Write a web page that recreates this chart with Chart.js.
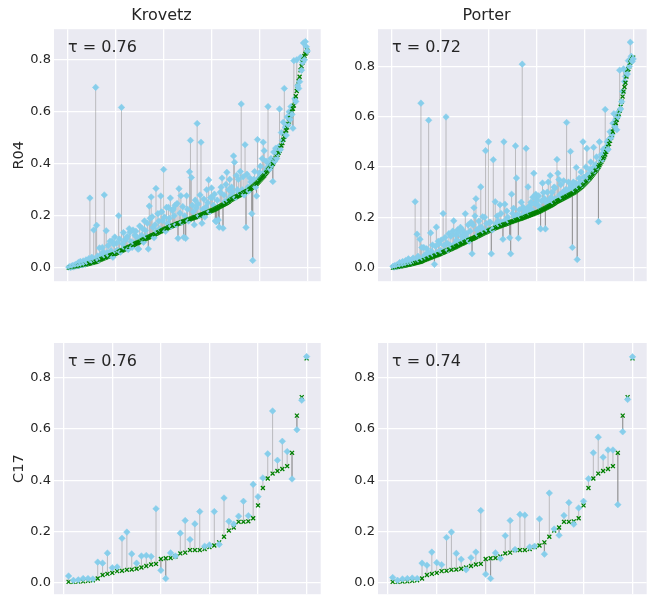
<!DOCTYPE html>
<html lang="en">
<head>
<meta charset="UTF-8">
<title>Krovetz / Porter vs R04 / C17</title>
<style>
    body {
        margin: 0;
        width: 652px;
        height: 604px;
        overflow: hidden;
        position: relative;
        background: #fff;
        font-family: "DejaVu Sans", sans-serif;
    }
    canvas {
        position: absolute;
    }
</style>
<script src="https://cdn.jsdelivr.net/npm/chart.js"></script>
</head>
<body>
<canvas id="c0" width="326" height="292" style="left:0;top:0"></canvas>
<canvas id="c1" width="326" height="292" style="left:326px;top:0"></canvas>
<canvas id="c2" width="326" height="291" style="left:0;top:314px"></canvas>
<canvas id="c3" width="326" height="291" style="left:326px;top:314px"></canvas>
<script>
// column / row names
const stemmers = ['Krovetz', 'Porter'];
const collections = ['R04', 'C17'];
const tauValues = [0.76, 0.72, 0.76, 0.74];

// tick values
const yTicks = [0.0, 0.2, 0.4, 0.6, 0.8];
const xTicksR04 = [0, 50, 100, 150, 200, 250];
const xTicksC17 = [0, 10, 20, 30, 40, 50];

// baseline scores, sorted (green x)
const baseR04 = [
    0.000, 0.001, 0.001, 0.002, 0.003, 0.003, 0.004, 0.005, 0.005, 0.006,
    0.007, 0.008, 0.008, 0.009, 0.010, 0.011, 0.011, 0.012, 0.013, 0.014,
    0.015, 0.016, 0.017, 0.018, 0.019, 0.020, 0.021, 0.022, 0.023, 0.024,
    0.026, 0.028, 0.030, 0.031, 0.033, 0.034, 0.036, 0.037, 0.039, 0.040,
    0.042, 0.043, 0.045, 0.046, 0.048, 0.049, 0.050, 0.052, 0.053, 0.055,
    0.057, 0.059, 0.060, 0.062, 0.064, 0.066, 0.067, 0.069, 0.071, 0.073,
    0.074, 0.076, 0.078, 0.080, 0.081, 0.083, 0.085, 0.087, 0.089, 0.091,
    0.093, 0.095, 0.096, 0.098, 0.100, 0.102, 0.104, 0.106, 0.108, 0.110,
    0.111, 0.113, 0.115, 0.116, 0.118, 0.120, 0.122, 0.124, 0.125, 0.127,
    0.129, 0.131, 0.133, 0.135, 0.137, 0.139, 0.140, 0.142, 0.144, 0.146,
    0.148, 0.150, 0.151, 0.153, 0.155, 0.156, 0.158, 0.159, 0.161, 0.162,
    0.164, 0.165, 0.167, 0.168, 0.170, 0.171, 0.172, 0.174, 0.175, 0.177,
    0.178, 0.180, 0.181, 0.182, 0.184, 0.185, 0.186, 0.188, 0.189, 0.190,
    0.192, 0.193, 0.194, 0.195, 0.197, 0.198, 0.200, 0.201, 0.203, 0.204,
    0.206, 0.207, 0.209, 0.210, 0.212, 0.213, 0.215, 0.216, 0.218, 0.219,
    0.221, 0.222, 0.224, 0.226, 0.228, 0.230, 0.232, 0.234, 0.236, 0.238,
    0.240, 0.242, 0.244, 0.246, 0.248, 0.250, 0.253, 0.255, 0.258, 0.261,
    0.263, 0.265, 0.267, 0.269, 0.271, 0.273, 0.275, 0.277, 0.279, 0.281,
    0.283, 0.285, 0.287, 0.289, 0.291, 0.293, 0.295, 0.297, 0.299, 0.302,
    0.305, 0.308, 0.311, 0.314, 0.317, 0.320, 0.323, 0.327, 0.331, 0.335,
    0.339, 0.343, 0.347, 0.351, 0.355, 0.360, 0.365, 0.370, 0.375, 0.380,
    0.385, 0.390, 0.395, 0.400, 0.407, 0.414, 0.421, 0.428, 0.435, 0.442,
    0.450, 0.460, 0.470, 0.480, 0.492, 0.504, 0.516, 0.528, 0.540, 0.552,
    0.563, 0.575, 0.588, 0.600, 0.612, 0.624, 0.640, 0.660, 0.680, 0.700,
    0.718, 0.735, 0.760, 0.775, 0.790, 0.800, 0.815, 0.823, 0.828, 0.835
];
const baseC17 = [
    0.004, 0.004, 0.005, 0.006, 0.008, 0.010, 0.017, 0.031, 0.035, 0.039,
    0.046, 0.047, 0.051, 0.052, 0.055, 0.060, 0.066, 0.072, 0.074, 0.093,
    0.096, 0.097, 0.103, 0.115, 0.118, 0.128, 0.128, 0.128, 0.132, 0.140,
    0.146, 0.158, 0.180, 0.204, 0.216, 0.238, 0.238, 0.240, 0.252, 0.302,
    0.370, 0.407, 0.426, 0.436, 0.444, 0.455, 0.507, 0.652, 0.724, 0.875
];

// stemmed scores (blue diamonds)
const krovetzR04 = [
    0.002, 0.004, 0.001, 0.006, 0.008, 0.003, 0.010, 0.012, 0.007, 0.015,
    0.020, 0.009, 0.024, 0.014, 0.011, 0.026, 0.018, 0.013, 0.030, 0.022,
    0.019, 0.035, 0.268, 0.028, 0.040, 0.024, 0.145, 0.032, 0.694, 0.163,
    0.045, 0.030, 0.076, 0.038, 0.052, 0.078, 0.060, 0.280, 0.044, 0.142,
    0.058, 0.085, 0.048, 0.102, 0.065, 0.103, 0.040, 0.090, 0.118, 0.062,
    0.095, 0.068, 0.200, 0.110, 0.060, 0.617, 0.092, 0.135, 0.078, 0.107,
    0.112, 0.120, 0.070, 0.150, 0.137, 0.100, 0.078, 0.145, 0.096, 0.125,
    0.140, 0.118, 0.072, 0.072, 0.160, 0.115, 0.125, 0.150, 0.098, 0.180,
    0.143, 0.120, 0.171, 0.072, 0.237, 0.190, 0.272, 0.196, 0.155, 0.115,
    0.165, 0.305, 0.140, 0.208, 0.180, 0.150, 0.276, 0.215, 0.181, 0.378,
    0.195, 0.140, 0.232, 0.170, 0.232, 0.190, 0.268, 0.160, 0.220, 0.226,
    0.200, 0.240, 0.165, 0.247, 0.113, 0.304, 0.210, 0.277, 0.175, 0.235,
    0.117, 0.200, 0.113, 0.277, 0.225, 0.180, 0.369, 0.490, 0.347, 0.240,
    0.215, 0.165, 0.260, 0.230, 0.555, 0.245, 0.200, 0.280, 0.483, 0.171,
    0.225, 0.264, 0.195, 0.233, 0.300, 0.250, 0.338, 0.215, 0.270, 0.307,
    0.270, 0.240, 0.283, 0.180, 0.177, 0.260, 0.184, 0.156, 0.290, 0.310,
    0.345, 0.152, 0.280, 0.255, 0.320, 0.367, 0.260, 0.300, 0.340, 0.275,
    0.310, 0.290, 0.430, 0.406, 0.270, 0.355, 0.300, 0.340, 0.290, 0.370,
    0.630, 0.300, 0.350, 0.280, 0.473, 0.155, 0.360, 0.310, 0.295, 0.345,
    0.330, 0.208, 0.028, 0.340, 0.370, 0.310, 0.276, 0.493, 0.345, 0.365,
    0.390, 0.360, 0.420, 0.483, 0.450, 0.370, 0.410, 0.385, 0.620, 0.400,
    0.380, 0.420, 0.395, 0.332, 0.445, 0.410, 0.460, 0.420, 0.440, 0.465,
    0.611, 0.455, 0.520, 0.490, 0.560, 0.690, 0.540, 0.510, 0.580, 0.550,
    0.600, 0.570, 0.620, 0.590, 0.537, 0.797, 0.650, 0.640, 0.800, 0.700,
    0.690, 0.716, 0.810, 0.760, 0.790, 0.865, 0.800, 0.870, 0.850, 0.834
];
const porterR04 = [
    0.005, 0.002, 0.008, 0.004, 0.010, 0.006, 0.013, 0.020, 0.009, 0.016,
    0.024, 0.012, 0.018, 0.028, 0.015, 0.022, 0.035, 0.019, 0.026, 0.030,
    0.020, 0.038, 0.027, 0.262, 0.033, 0.133, 0.045, 0.030, 0.113, 0.654,
    0.080, 0.036, 0.080, 0.050, 0.042, 0.075, 0.060, 0.586, 0.048, 0.138,
    0.065, 0.090, 0.052, 0.013, 0.085, 0.161, 0.060, 0.105, 0.095, 0.068,
    0.110, 0.064, 0.215, 0.088, 0.120, 0.599, 0.098, 0.070, 0.135, 0.090,
    0.125, 0.082, 0.145, 0.186, 0.095, 0.130, 0.110, 0.150, 0.140, 0.102,
    0.160, 0.125, 0.150, 0.110, 0.135, 0.214, 0.135, 0.118, 0.170, 0.105,
    0.145, 0.180, 0.055, 0.170, 0.238, 0.205, 0.274, 0.150, 0.132, 0.185,
    0.160, 0.321, 0.160, 0.202, 0.145, 0.200, 0.465, 0.175, 0.150, 0.500,
    0.180, 0.180, 0.055, 0.150, 0.429, 0.160, 0.262, 0.175, 0.205, 0.185,
    0.170, 0.250, 0.215, 0.180, 0.113, 0.500, 0.252, 0.190, 0.225, 0.200,
    0.185, 0.119, 0.055, 0.292, 0.215, 0.236, 0.200, 0.484, 0.356, 0.210,
    0.117, 0.230, 0.205, 0.260, 0.809, 0.240, 0.215, 0.225, 0.474, 0.235,
    0.321, 0.220, 0.247, 0.260, 0.230, 0.280, 0.375, 0.255, 0.292, 0.270,
    0.250, 0.285, 0.240, 0.154, 0.265, 0.336, 0.298, 0.275, 0.154, 0.258,
    0.300, 0.340, 0.270, 0.366, 0.280, 0.300, 0.262, 0.320, 0.317, 0.275,
    0.430, 0.375, 0.350, 0.290, 0.330, 0.280, 0.300, 0.345, 0.295, 0.310,
    0.577, 0.300, 0.340, 0.315, 0.462, 0.325, 0.080, 0.340, 0.310, 0.335,
    0.398, 0.032, 0.320, 0.355, 0.340, 0.380, 0.330, 0.500, 0.360, 0.345,
    0.400, 0.474, 0.370, 0.355, 0.390, 0.420, 0.375, 0.395, 0.478, 0.385,
    0.410, 0.440, 0.400, 0.183, 0.500, 0.425, 0.450, 0.430, 0.470, 0.455,
    0.629, 0.480, 0.500, 0.470, 0.510, 0.540, 0.516, 0.530, 0.574, 0.612,
    0.560, 0.590, 0.548, 0.600, 0.620, 0.785, 0.631, 0.660, 0.700, 0.790,
    0.740, 0.760, 0.780, 0.770, 0.823, 0.800, 0.896, 0.840, 0.820, 0.830
];
const krovetzC17 = [
    0.027, 0.010, 0.012, 0.017, 0.017, 0.015, 0.081, 0.077, 0.116, 0.059,
    0.062, 0.174, 0.198, 0.113, 0.077, 0.105, 0.107, 0.103, 0.289, 0.049,
    0.017, 0.117, 0.105, 0.194, 0.243, 0.169, 0.230, 0.278, 0.143, 0.148,
    0.278, 0.150, 0.331, 0.240, 0.229, 0.260, 0.318, 0.262, 0.384, 0.336,
    0.409, 0.503, 0.670, 0.478, 0.552, 0.512, 0.405, 0.597, 0.712, 0.882
];
const porterC17 = [
    0.021, 0.010, 0.015, 0.017, 0.019, 0.017, 0.077, 0.069, 0.120, 0.079,
    0.071, 0.177, 0.198, 0.115, 0.092, 0.051, 0.098, 0.120, 0.282, 0.034,
    0.017, 0.117, 0.095, 0.184, 0.243, 0.130, 0.267, 0.264, 0.140, 0.143,
    0.249, 0.112, 0.350, 0.210, 0.186, 0.263, 0.313, 0.229, 0.292, 0.318,
    0.406, 0.507, 0.568, 0.490, 0.518, 0.518, 0.305, 0.589, 0.715, 0.881
];

const TEXT = '#262626';
const FONT = '"DejaVu Sans", sans-serif';
const BLUE = '#87CEEB';
const GREEN = '#008000';

// grey background behind the plot area (seaborn darkgrid look)
const panelBg = {
    id: 'panelBg',
    beforeDraw(chart) {
        const {ctx, chartArea: a} = chart;
        ctx.save();
        ctx.fillStyle = '#EAEAF2';
        ctx.fillRect(a.left, a.top, a.right - a.left, a.bottom - a.top);
        ctx.restore();
    }
};

// the tau annotation in the upper left corner
const tauLabel = {
    id: 'tauLabel',
    afterDraw(chart, args, opts) {
        const {ctx, chartArea: a} = chart;
        ctx.save();
        ctx.font = '16px ' + FONT;
        ctx.fillStyle = TEXT;
        ctx.textBaseline = 'middle';
        ctx.fillText(opts.text, a.left + 14, a.top + 19);
        ctx.restore();
    }
};

function stems(base, other) {
    const pts = [];
    base.forEach((v, i) => {
        pts.push({x: i + 1, y: v}, {x: i + 1, y: other[i]}, {x: i + 1, y: null});
    });
    return pts;
}

// query by query: the baseline x first, then the stemmed diamond
function markers(base, other) {
    const pts = [];
    base.forEach((v, i) => {
        pts.push({x: i + 1, y: v}, {x: i + 1, y: other[i]});
    });
    return pts;
}

const isBase = c => c.dataIndex % 2 === 0;

function makePanel(id, cfg) {
    new Chart(document.getElementById(id), {
        type: 'scatter',
        data: {
            datasets: [
                {
                    data: markers(cfg.base, cfg.other),
                    pointStyle: c => isBase(c) ? 'crossRot' : 'rectRot',
                    pointRadius: c => isBase(c) ? 2.8 : 3.3,
                    borderWidth: c => isBase(c) ? 1.3 : 0.5,
                    borderColor: c => isBase(c) ? GREEN : BLUE,
                    backgroundColor: c => isBase(c) ? GREEN : BLUE,
                    order: 0
                },
                {
                    data: stems(cfg.base, cfg.other),
                    showLine: true,
                    spanGaps: false,
                    pointRadius: 0,
                    borderColor: 'rgba(140,140,140,0.5)',
                    borderWidth: 1,
                    order: 1
                }
            ]
        },
        options: {
            responsive: false,
            animation: false,
            events: [],
            layout: {padding: cfg.padding},
            plugins: {
                legend: {display: false},
                tooltip: {enabled: false},
                title: {
                    display: !!cfg.title,
                    text: cfg.title,
                    color: TEXT,
                    font: {family: FONT, size: 16, weight: 'normal'},
                    padding: {top: 6, bottom: 4}
                },
                tauLabel: {text: cfg.tau}
            },
            scales: {
                x: {
                    type: 'linear',
                    min: cfg.xMin,
                    max: cfg.xMax,
                    afterBuildTicks: s => { s.ticks = cfg.xTicks.map(v => ({value: v})); },
                    afterFit: s => { s.height = 0; },
                    ticks: {display: false},
                    grid: {color: '#ffffff', lineWidth: 1.3, drawTicks: false},
                    border: {display: false}
                },
                y: {
                    type: 'linear',
                    min: cfg.yMin,
                    max: cfg.yMax,
                    afterBuildTicks: s => { s.ticks = yTicks.map(v => ({value: v})); },
                    afterFit: s => { s.width = cfg.yWidth; },
                    ticks: {
                        color: TEXT,
                        padding: 3,
                        font: {family: FONT, size: 13},
                        callback: v => v.toFixed(1)
                    },
                    title: {
                        display: !!cfg.yLabel,
                        text: cfg.yLabel,
                        color: TEXT,
                        font: {family: FONT, size: 14.5},
                        padding: {top: 11, bottom: 0}
                    },
                    grid: {color: '#ffffff', lineWidth: 1.3, drawTicks: false},
                    border: {display: false}
                }
            }
        },
        plugins: [panelBg, tauLabel]
    });
}

const tauText = t => '\u03c4 = ' + t.toFixed(2);

makePanel('c0', {
    base: baseR04, other: krovetzR04, title: stemmers[0], yLabel: collections[0],
    tau: tauText(tauValues[0]), xTicks: xTicksR04, xMin: -14.5, xMax: 264,
    yMin: -0.052, yMax: 0.918, yWidth: 54, padding: {top: 0, right: 3, bottom: 2, left: 0}
});
makePanel('c1', {
    base: baseR04, other: porterR04, title: stemmers[1], yLabel: '',
    tau: tauText(tauValues[1]), xTicks: xTicksR04, xMin: -14.5, xMax: 264,
    yMin: -0.054, yMax: 0.948, yWidth: 52, padding: {top: 0, right: 5, bottom: 2, left: 0}
});
makePanel('c2', {
    base: baseC17, other: krovetzC17, title: '', yLabel: collections[1],
    tau: tauText(tauValues[2]), xTicks: xTicksC17, xMin: -2.0, xMax: 52.9,
    yMin: -0.044, yMax: 0.935, yWidth: 54, padding: {top: 29, right: 3, bottom: 0, left: 0}
});
makePanel('c3', {
    base: baseC17, other: porterC17, title: '', yLabel: '',
    tau: tauText(tauValues[3]), xTicks: xTicksC17, xMin: -2.0, xMax: 52.9,
    yMin: -0.044, yMax: 0.935, yWidth: 52, padding: {top: 29, right: 5, bottom: 0, left: 0}
});
</script>
</body>
</html>
